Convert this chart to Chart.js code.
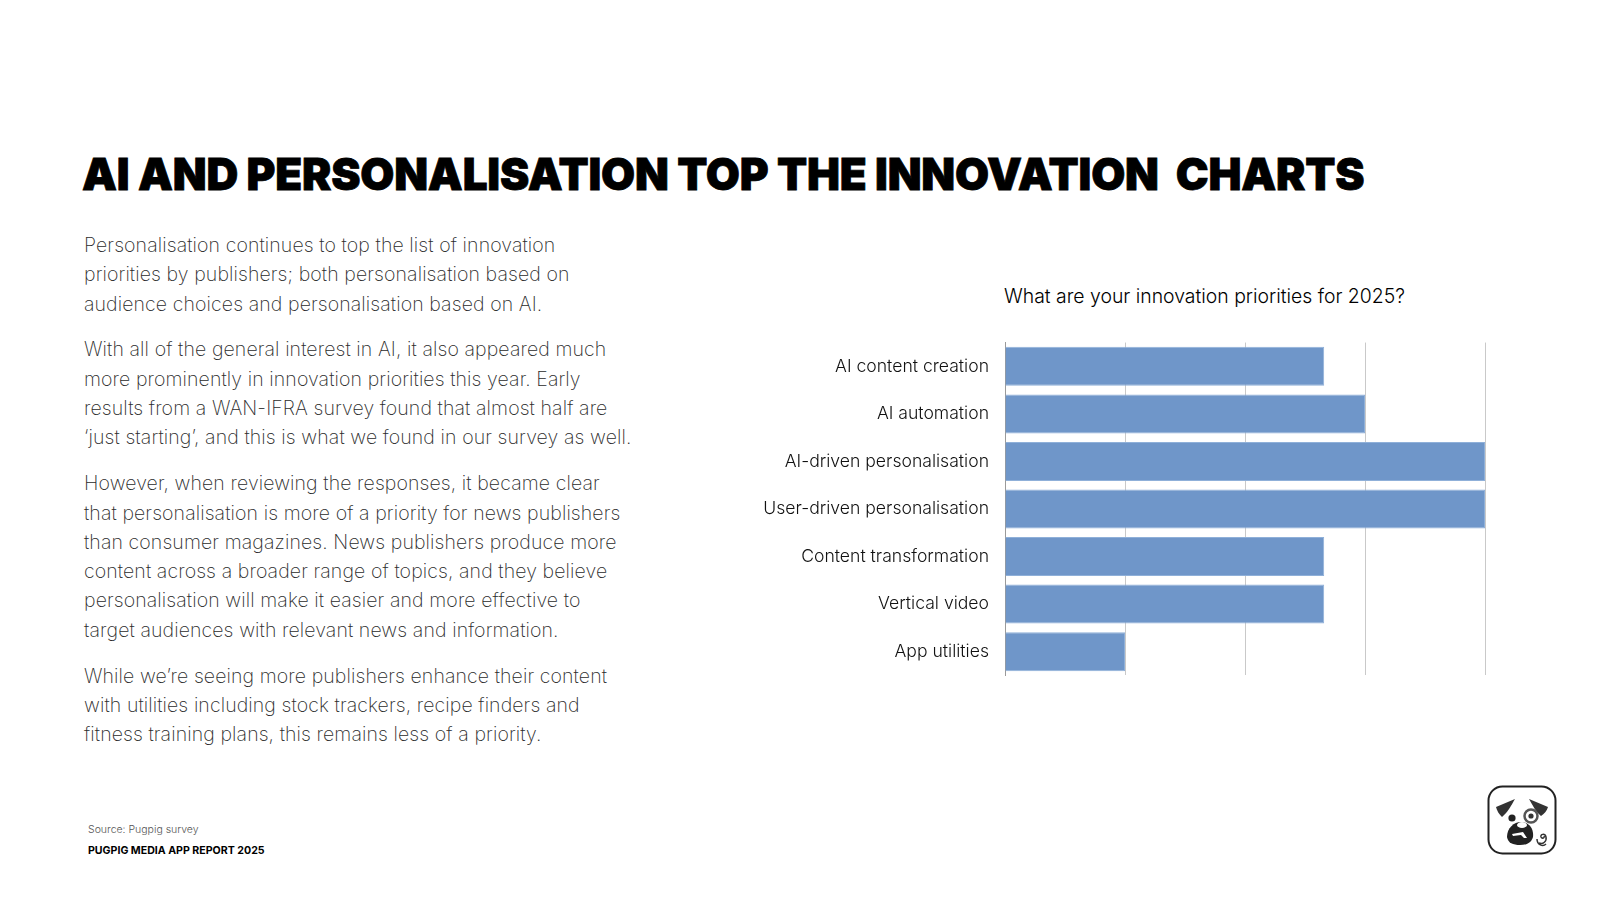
<!DOCTYPE html>
<html lang="en">
<head>
<meta charset="utf-8">
<title>AI and personalisation top the innovation charts</title>
<script src="https://cdn.jsdelivr.net/npm/chart.js@4"></script>
<style>
  html, body { margin: 0; padding: 0; background: #fff; }
  body { width: 1600px; height: 898px; position: relative; overflow: hidden; font-family: Inter, sans-serif; }
  .abs { position: absolute; white-space: pre; }
  #title { left: 82px; top: 145px; font-size: 44px; line-height: 58px; font-weight: 900; color: #000; letter-spacing: -0.2px; -webkit-text-stroke: 0.8px #000; }
  #body { left: 84px; top: 231px; font-size: 19.5px; line-height: 29.3px; font-weight: 200; color: #2b2b2b; letter-spacing: 0.1px; }
  #body p { margin: 0 0 16.6px 0; }
  #chartTitle { left: 1004px; top: 283px; font-size: 19.4px; line-height: 26px; font-weight: 300; color: #000; }
  #source { left: 88px; top: 822px; font-size: 10.5px; line-height: 16px; font-weight: 300; color: #555; }
  #report { left: 88px; top: 843px; font-size: 10.6px; line-height: 16px; font-weight: 700; color: #000; }
  #chartBox { position: absolute; left: 740px; top: 324px; width: 780px; height: 370px; }
  #logo { position: absolute; left: 1487px; top: 785px; width: 70px; height: 70px; }
</style>
</head>
<body>
<div class="abs" id="title">AI AND PERSONALISATION TOP THE INNOVATION  CHARTS</div>
<div class="abs" id="body"><p>Personalisation continues to top the list of innovation
priorities by publishers; both personalisation based on
audience choices and personalisation based on AI.</p><p>With all of the general interest in AI, it also appeared much
more prominently in innovation priorities this year. Early
results from a WAN-IFRA survey found that almost half are
‘just starting’, and this is what we found in our survey as well.</p><p>However, when reviewing the responses, it became clear
that personalisation is more of a priority for news publishers
than consumer magazines. News publishers produce more
content across a broader range of topics, and they believe
personalisation will make it easier and more effective to
target audiences with relevant news and information.</p><p>While we’re seeing more publishers enhance their content
with utilities including stock trackers, recipe finders and
fitness training plans, this remains less of a priority.</p></div>
<div class="abs" id="chartTitle">What are your innovation priorities for 2025?</div>
<div id="chartBox"><canvas id="priorityChart" width="780" height="370"></canvas></div>
<div class="abs" id="source">Source: Pugpig survey</div>
<div class="abs" id="report">PUGPIG MEDIA APP REPORT 2025</div>
<svg id="logo" viewBox="0 0 70 70">
  <rect x="1.5" y="1.5" width="67" height="67" rx="14" fill="#fff" stroke="#222" stroke-width="2"/>
  <path d="M9 22 L28 14 C24 21 20 28 15 32 C12 29 10 26 9 22Z" fill="#333"/>
  <path d="M61 22 L42 14 C46 21 49 27 54 31 C57 29 60 26 61 22Z" fill="#333"/>
  <circle cx="25" cy="33" r="3.6" fill="#222"/>
  <circle cx="44" cy="31" r="6.5" fill="#fff" stroke="#555" stroke-width="2.5"/>
  <circle cx="44" cy="31" r="2.6" fill="#333"/>
  <path d="M20 52 C20 43 27 37 34 37 C42 37 47 44 46 52 C44 59 38 60 33 60 C26 60 21 58 20 52Z" fill="#222"/>
  <ellipse cx="35" cy="40" rx="5" ry="3" fill="#fff"/>
  <path d="M25 49 L36 47 L40 53 L37 53 L34 50 L26 51Z" fill="#fff"/>
  <path d="M52 58 C56 60 60 56 59 52 C58 48 53 49 54 52 C55 54 58 53 57 51 M50 54 C50 60 56 62 59 59" fill="none" stroke="#333" stroke-width="1.5"/>
</svg>
<script>
const categories = ['AI content creation', 'AI automation', 'AI-driven personalisation', 'User-driven personalisation', 'Content transformation', 'Vertical video', 'App utilities'];
const priorityValues = [2.66, 3, 4, 4, 2.66, 2.66, 1];
const axisMin = 0;
const axisMax = 4;
const axisStep = 1;

new Chart(document.getElementById('priorityChart'), {
    type: 'bar',
    data: {
        labels: categories,
        datasets: [{
            data: priorityValues,
            backgroundColor: '#6f96c9',
            borderColor: '#8fb0d9',
            borderWidth: 1,
            barPercentage: 0.82,
            categoryPercentage: 1
        }]
    },
    options: {
        indexAxis: 'y',
        responsive: false,
        animation: false,
        layout: { padding: { top: 0, bottom: 0, right: 35, left: 0 } },
        plugins: {
            legend: { display: false },
            title: { display: false },
            tooltip: { enabled: false }
        },
        scales: {
            x: {
                min: axisMin,
                max: axisMax,
                ticks: { stepSize: axisStep, display: false },
                grid: { color: '#c9c9c9', lineWidth: 1, drawTicks: false },
                border: { display: false }
            },
            y: {
                afterFit(scale) { scale.width = 265; },
                ticks: {
                    color: '#111',
                    padding: 8,
                    font: { family: 'Inter', size: 17.6, weight: '300' }
                },
                grid: { display: false },
                border: { color: '#9a9a9a', width: 1 }
            }
        }
    }
});
</script>
</body>
</html>
